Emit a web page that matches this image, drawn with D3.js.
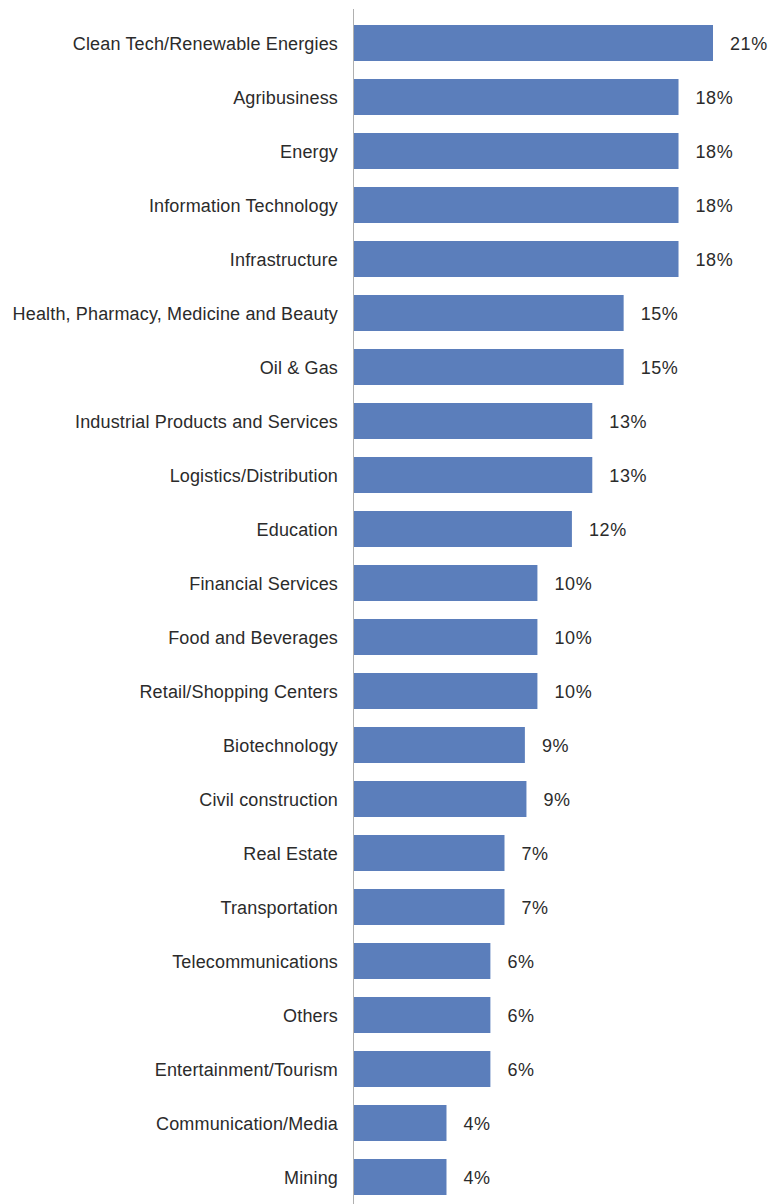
<!DOCTYPE html>
<html>
<head>
<meta charset="utf-8">
<script src="https://cdn.jsdelivr.net/npm/d3@7"></script>
<style>
  html, body { margin: 0; padding: 0; background: #ffffff; }
  svg { display: block; }
</style>
</head>
<body>
<div id="chart"></div>
<script>
const categories = [
  "Clean Tech/Renewable Energies",
  "Agribusiness",
  "Energy",
  "Information Technology",
  "Infrastructure",
  "Health, Pharmacy, Medicine and Beauty",
  "Oil & Gas",
  "Industrial Products and Services",
  "Logistics/Distribution",
  "Education",
  "Financial Services",
  "Food and Beverages",
  "Retail/Shopping Centers",
  "Biotechnology",
  "Civil construction",
  "Real Estate",
  "Transportation",
  "Telecommunications",
  "Others",
  "Entertainment/Tourism",
  "Communication/Media",
  "Mining"
];

const values = [20.7, 18.5, 18.5, 18.5, 18.5, 15.0, 15.0, 13.0, 13.0, 11.7, 9.5, 9.5, 9.5, 8.7, 8.8, 7.4, 7.4, 6.5, 6.5, 6.5, 3.7, 3.7];

const valueLabels = ["21%", "18%", "18%", "18%", "18%", "15%", "15%", "13%", "13%", "12%", "10%", "10%", "10%", "9%", "9%", "7%", "7%", "6%", "6%", "6%", "4%", "4%"];

const W = 768, H = 1204;
const svg = d3.select("#chart").append("svg")
  .attr("width", W).attr("height", H);

const x = d3.scaleLinear().domain([-2.2, 20.7]).range([354, 713]);
const y = d3.scaleBand().domain(categories)
  .range([16, 16 + categories.length * 54])
  .paddingInner(1 / 3).paddingOuter(1 / 6);

const data = categories.map((c, i) => ({ c, v: values[i], l: valueLabels[i] }));

svg.append("g").selectAll("rect").data(data).join("rect")
  .attr("x", x(-2.2))
  .attr("y", d => y(d.c))
  .attr("width", d => x(d.v) - x(-2.2))
  .attr("height", y.bandwidth())
  .attr("fill", "#5b7ebb");

svg.append("line")
  .attr("x1", 353.5).attr("x2", 353.5)
  .attr("y1", 9).attr("y2", H)
  .attr("stroke", "#b0b0b0").attr("stroke-width", 1);

svg.append("g").selectAll("text").data(data).join("text")
  .attr("x", 338)
  .attr("y", d => y(d.c) + y.bandwidth() / 2)
  .attr("dy", "0.4em")
  .attr("text-anchor", "end")
  .attr("font-family", "'Liberation Sans', Arial, sans-serif")
  .attr("font-size", 18)
  .attr("letter-spacing", "0.15px")
  .attr("fill", "#2b2b2b")
  .text(d => d.c);

svg.append("g").selectAll("text").data(data).join("text")
  .attr("x", d => x(d.v) + 17)
  .attr("y", d => y(d.c) + y.bandwidth() / 2)
  .attr("dy", "0.4em")
  .attr("text-anchor", "start")
  .attr("font-family", "'Liberation Sans', Arial, sans-serif")
  .attr("font-size", 18)
  .attr("letter-spacing", "0.6px")
  .attr("fill", "#2b2b2b")
  .text(d => d.l);
</script>
</body>
</html>
